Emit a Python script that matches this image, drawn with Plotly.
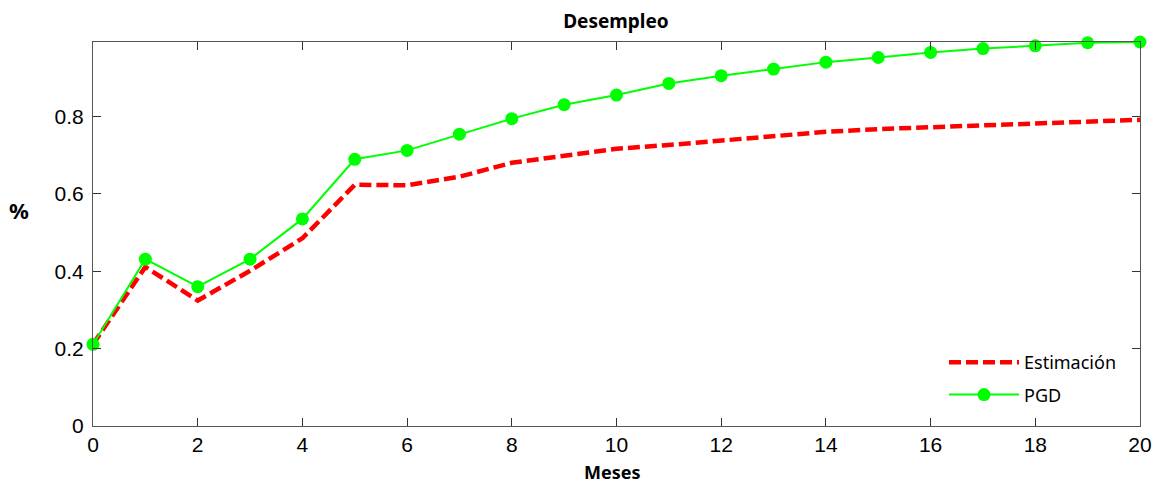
import plotly.graph_objects as go

meses = list(range(21))
estimacion = [0.211, 0.411, 0.324, 0.401, 0.485, 0.623, 0.622, 0.644, 0.680, 0.698,
              0.716, 0.726, 0.737, 0.749, 0.760, 0.767, 0.772, 0.777, 0.782, 0.786, 0.791]
pgd = [0.211, 0.431, 0.360, 0.431, 0.535, 0.689, 0.712, 0.754, 0.794, 0.830,
       0.855, 0.885, 0.905, 0.922, 0.940, 0.952, 0.965, 0.975, 0.982, 0.990, 0.992]
x_ticks = list(range(0, 21, 2))
y_ticks = [0, 0.2, 0.4, 0.6, 0.8]
y_ticktext = ["0", "0.2", "0.4", "0.6", "0.8"]

fig = go.Figure()
fig.add_trace(go.Scatter(
    x=meses, y=estimacion, mode="lines", name="Estimación", legendgroup="a",
    line=dict(color="#ff0000", width=4.5, dash="12px,5px"), cliponaxis=False))
fig.add_trace(go.Scatter(
    x=meses, y=pgd, mode="lines+markers", name="PGD", legendgroup="b",
    line=dict(color="#00ff00", width=2),
    marker=dict(symbol="circle", size=13, color="#00ff00"), cliponaxis=False))

axis_common = dict(showline=True, linecolor="#555555", linewidth=1, mirror="ticks",
                   ticks="inside", ticklen=8, tickcolor="#333333", tickwidth=1,
                   showgrid=False, zeroline=False, automargin=False,
                   tickfont=dict(family="Liberation Sans, Arial", size=21, color="#000000"))

label_font = dict(family="Noto Sans, Open Sans", color="#000000")

fig.update_layout(
    width=1157, height=484,
    margin=dict(l=93, r=17, t=42, b=58),
    paper_bgcolor="white", plot_bgcolor="white",
    title=dict(text="<b>Desempleo</b>", x=0.5324, xanchor="center", y=0.9566, yanchor="middle",
               font=dict(size=19, **label_font)),
    xaxis=dict(range=[0, 20], tickvals=x_ticks, **axis_common),
    yaxis=dict(range=[0, 0.992], tickvals=y_ticks, ticktext=y_ticktext,
               ticklabelstandoff=4, **axis_common),
    legend=dict(x=0.8128, xanchor="left", y=0.2135, yanchor="top",
                bgcolor="rgba(255,255,255,0)", borderwidth=0,
                itemwidth=70, traceorder="grouped", tracegroupgap=6,
                font=dict(size=18, **label_font)),
    showlegend=True,
    annotations=[
        dict(text="<b>%</b>", xref="paper", yref="paper",
             x=(19 - 93) / 1047, y=(426 - 209.5) / 384,
             xanchor="center", yanchor="middle", showarrow=False,
             font=dict(size=22, **label_font)),
        dict(text="<b>Meses</b>", xref="paper", yref="paper",
             x=(612.5 - 93) / 1047, y=(426 - 471.5) / 384,
             xanchor="center", yanchor="middle", showarrow=False,
             font=dict(size=18, **label_font)),
    ],
)

fig.write_html("out.html", config={"displayModeBar": False},
               post_script="document.body.style.margin='0';")
